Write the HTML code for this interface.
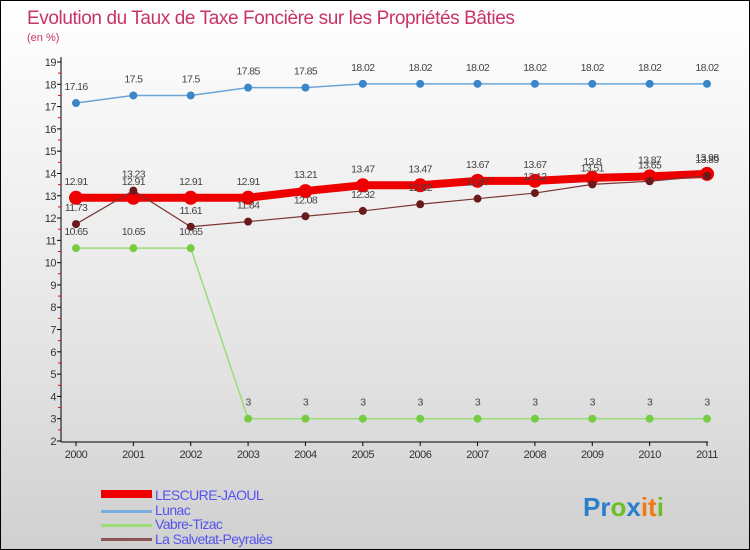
<!DOCTYPE html>
<html><head><meta charset="utf-8"><style>
body{margin:0;}
#wrap{width:750px;height:550px;position:relative;box-sizing:border-box;border:1px solid #000;background:linear-gradient(#ffffff,#e6e6e6 60%,#d0d0d0);font-family:"Liberation Sans",sans-serif;overflow:hidden}
</style></head><body>
<div id="wrap">
<svg id="chart" width="748" height="548" style="position:absolute;left:0;top:0">
<text x="26" y="23" font-size="19" fill="#c8336a" letter-spacing="-0.4">Evolution du Taux de Taxe Foncière sur les Propriétés Bâties</text>
<text x="26" y="40" font-size="11" fill="#c8336a">(en %)</text>
<g id="axes"></g><g id="series"></g><g id="labels"></g>
<g>
<rect x="100" y="489" width="51" height="8" fill="#e00"/>
<text x="154" y="499" font-size="14" fill="#5555ee" letter-spacing="-0.6">LESCURE-JAOUL</text>
<rect x="100" y="509" width="51" height="3" fill="#7aaedc"/>
<text x="154" y="514" font-size="14" fill="#5555ee" letter-spacing="-0.6">Lunac</text>
<rect x="100" y="523" width="51" height="3" fill="#99dd77"/>
<text x="154" y="528" font-size="14" fill="#5555ee" letter-spacing="-0.6">Vabre-Tizac</text>
<rect x="100" y="537" width="51" height="3" fill="#8b5555"/>
<text x="154" y="543" font-size="14" fill="#5555ee" letter-spacing="-0.6">La Salvetat-Peyralès</text>
</g>
<g font-size="26" font-weight="bold">
<text x="582" y="515"><tspan fill="#2a7fcc">Pr</tspan><tspan fill="#6cbf2a">o</tspan><tspan fill="#2a7fcc">x</tspan><tspan fill="#f07a10">it</tspan><tspan fill="#6cbf2a">i</tspan></text>
</g>
</svg>
</div>
<script>
const years=[2000,2001,2002,2003,2004,2005,2006,2007,2008,2009,2010,2011];
const lescure=[12.91,12.91,12.91,12.91,13.21,13.47,13.47,13.67,13.67,13.8,13.87,13.98];
const lunac=[17.16,17.5,17.5,17.85,17.85,18.02,18.02,18.02,18.02,18.02,18.02,18.02];
const vabre=[10.65,10.65,10.65,3,3,3,3,3,3,3,3,3];
const salvetat=[11.73,13.23,11.61,11.84,12.08,12.32,12.62,12.87,13.12,13.51,13.65,13.89];
const yTicks=[2,3,4,5,6,7,8,9,10,11,12,13,14,15,16,17,18,19];
const NS='http://www.w3.org/2000/svg';
const xS=i=>75+i*(706-75)/(years.length-1);
const yS=v=>440-(v-2)*(440-61)/17;
function mk(tag,attrs,parent){const e=document.createElementNS(NS,tag);for(const k in attrs)e.setAttribute(k,attrs[k]);parent.appendChild(e);return e;}
const axes=document.getElementById('axes'),ser=document.getElementById('series'),lab=document.getElementById('labels');
let a=mk('line',{x1:60,y1:56,x2:60,y2:441,stroke:'#000'},axes);


a=mk('line',{x1:60,y1:441,x2:707,y2:441,stroke:'#000'},axes);


yTicks.forEach(t=>{
 mk('line',{x1:56,y1:yS(t),x2:60,y2:yS(t),stroke:'#000'},axes);
 if(t<19) mk('line',{x1:57,y1:yS(t+0.5),x2:60,y2:yS(t+0.5),stroke:'#e00'},axes);
 const tx=mk('text',{x:55,y:yS(t)+4,'font-size':11,fill:'#333','text-anchor':'end','letter-spacing':'-0.5'},axes);
 tx.textContent=t;
 
 
});
years.forEach((y,i)=>{
 mk('line',{x1:xS(i),y1:441,x2:xS(i),y2:445,stroke:'#000'},axes);
 const tx=mk('text',{x:xS(i),y:457,'font-size':11,fill:'#333','text-anchor':'middle','letter-spacing':'-0.5'},axes);
 tx.textContent=y;
 
 
});
function draw(vals,name,color,w,r,pc){
 const p=mk('polyline',{points:vals.map((v,i)=>xS(i)+','+yS(v)).join(' '),fill:'none',stroke:color,'stroke-width':w},ser);
 
 
 vals.forEach((v,i)=>{
  const c=mk('circle',{cx:xS(i),cy:yS(v),r:r,fill:pc},ser);
  
  
  const t=mk('text',{x:xS(i),y:yS(v)-13,'font-size':10.5,fill:'#444','text-anchor':'middle','letter-spacing':'-0.6'},lab);
  t.textContent=v;
  
  
 });
}
draw(lunac,'lunac','#6aa5d8',1.5,4,'#3a86c8');
draw(vabre,'vabre','#99dd77',1.5,4,'#77cc44');
draw(lescure,'lescure','#ee0000',8,7,'#ee0000');
draw(salvetat,'salvetat','#7a3535',1.2,4,'#6a1a1a');
</script>
</body></html>
